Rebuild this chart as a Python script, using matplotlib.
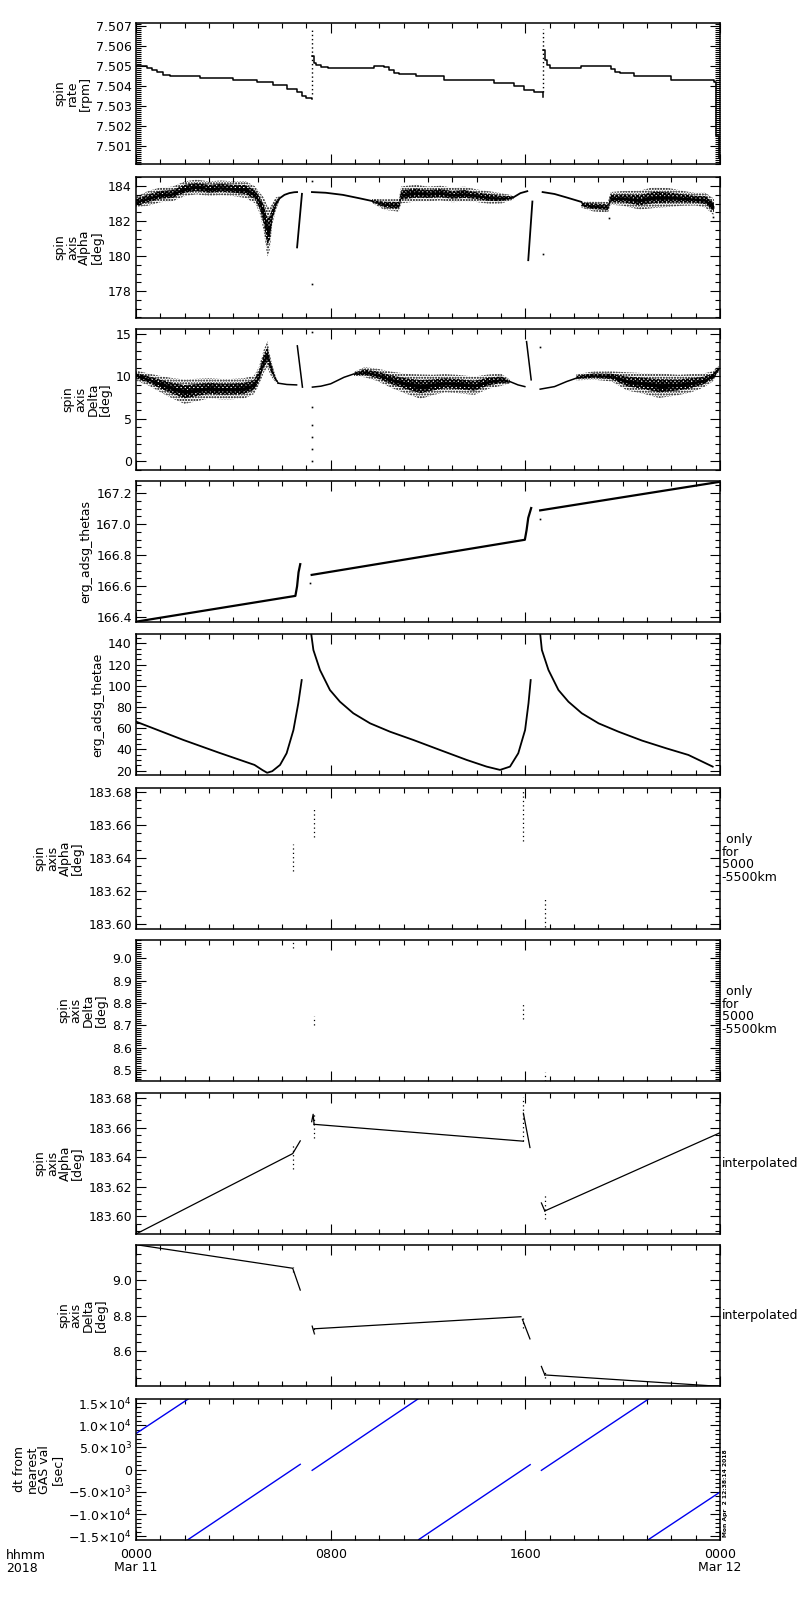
import matplotlib
matplotlib.use('Agg')
import matplotlib.pyplot as plt
import numpy as np
from matplotlib.ticker import MultipleLocator, FixedLocator

plt.rcParams['font.family'] = ['DejaVu Sans']
plt.rcParams['hatch.linewidth'] = 1.0

# ---------------- DATA (time in hours from 2018-03-11 00:00) ----------------
# Panel 1: spin rate [rpm]
rate_a_t = [0, 0.44, 0.64, 0.85, 1.12, 1.40, 2.63, 4.0, 4.97, 5.65, 6.2, 6.62, 6.82, 7.0, 7.23]
rate_a_v = [7.50502, 7.50493, 7.50482, 7.5047, 7.50458, 7.50448, 7.50441, 7.50431, 7.50419,
            7.50404, 7.50387, 7.50371, 7.50352, 7.50342, 7.50334]
rate_b_t = [7.25, 7.3, 7.4, 7.6, 7.9, 9.8, 10.2, 10.4, 10.6, 10.8, 11.5, 12.65, 14.71, 15.53, 15.94, 16.36, 16.71]
rate_b_v = [7.50549, 7.50515, 7.50505, 7.50498, 7.5049, 7.5050, 7.50495, 7.5048, 7.50467, 7.50461,
            7.5045, 7.50432, 7.50414, 7.5040, 7.50381, 7.5037, 7.50344]
rate_c_t = [16.74, 16.8, 16.9, 17.0, 18.27, 19.5, 19.7, 19.9, 20.45, 22.0, 23.75, 23.85, 23.96]
rate_c_v = [7.50582, 7.5053, 7.50505, 7.5049, 7.5050, 7.50485, 7.5047, 7.50464, 7.5045, 7.5043,
            7.5042, 7.5015, 7.5004]
rate_spike_t = [7.23, 16.72]
rate_spike_top = [7.50687, 7.50687]
rate_spike_bot = [7.50360, 7.50370]

# Panel 2: spin axis Alpha (noisy parts as centre / half-width)
alpha_n1_t = [0.0, 0.5, 1.0, 1.5, 2.0, 2.5, 3.0, 3.5, 4.0, 4.5, 4.9, 5.1, 5.25, 5.4, 5.5, 5.6, 5.75, 5.9]
alpha_n1_m = [183.1, 183.3, 183.5, 183.55, 183.85, 183.95, 183.85, 183.9, 183.85, 183.8, 183.5,
              183.0, 182.4, 181.4, 181.6, 182.4, 183.0, 183.3]
alpha_n1_w = [0.25, 0.35, 0.35, 0.35, 0.35, 0.35, 0.35, 0.35, 0.35, 0.4, 0.4, 0.5, 0.8, 1.2, 1.0,
              0.5, 0.3, 0.1]
alpha_n2_t = [9.7, 10.2, 10.8, 10.9, 11.5, 12.0, 12.5, 13.0, 13.5, 14.0, 14.5, 15.0, 15.5]
alpha_n2_m = [183.15, 182.95, 182.9, 183.5, 183.6, 183.55, 183.6, 183.5, 183.55, 183.45, 183.35, 183.3, 183.35]
alpha_n2_w = [0.1, 0.25, 0.3, 0.4, 0.4, 0.35, 0.35, 0.35, 0.35, 0.3, 0.3, 0.25, 0.1]
alpha_n3_t = [18.3, 18.8, 19.4, 19.5, 20.0, 20.7, 21.3, 21.9, 22.5, 23.0, 23.4, 23.75]
alpha_n3_m = [182.95, 182.85, 182.8, 183.3, 183.3, 183.2, 183.35, 183.35, 183.3, 183.25, 183.2, 182.8]
alpha_n3_w = [0.15, 0.25, 0.25, 0.3, 0.35, 0.45, 0.5, 0.45, 0.35, 0.3, 0.35, 0.4]
alpha_s_t = [[5.9, 6.1, 6.3, 6.5, 6.62], [6.62, 6.82], [7.23, 7.8, 8.5, 9.2, 9.7],
             [15.5, 15.8, 16.08], [16.12, 16.29], [16.71, 17.2, 17.7, 18.3]]
alpha_s_v = [[183.3, 183.5, 183.6, 183.65, 183.66], [180.5, 183.56], [183.66, 183.62, 183.5, 183.3, 183.15],
             [183.35, 183.6, 183.71], [179.77, 183.12], [183.66, 183.55, 183.35, 183.1]]
alpha_pts_t = [7.23, 7.23, 16.71, 19.45, 23.7]
alpha_pts_v = [184.3, 178.4, 180.1, 182.2, 182.25]

# Panel 3: spin axis Delta
delta_n1_t = [0, 0.55, 1.0, 1.5, 2.0, 2.5, 3.0, 3.5, 3.9, 4.45, 4.85, 5.05, 5.25, 5.4, 5.55, 5.7, 5.85]
delta_n1_m = [10.1, 9.6, 9.1, 8.6, 8.2, 8.4, 8.6, 8.5, 8.5, 8.6, 9.0, 10.0, 11.8, 12.6, 11.0, 9.9, 9.2]
delta_n1_w = [0.5, 0.6, 0.8, 1.0, 1.2, 1.1, 1.0, 1.0, 1.0, 1.0, 0.9, 0.9, 1.1, 1.3, 0.8, 0.4, 0.15]
delta_n2_t = [8.96, 9.4, 9.9, 10.5, 11.16, 11.7, 12.2, 12.7, 13.26, 13.9, 14.5, 15.0, 15.36]
delta_n2_m = [10.3, 10.5, 10.2, 9.6, 9.1, 8.8, 9.0, 9.2, 9.1, 8.9, 9.4, 9.6, 9.4]
delta_n2_w = [0.2, 0.5, 0.6, 0.8, 1.0, 1.2, 1.0, 0.9, 0.9, 0.9, 0.7, 0.6, 0.2]
delta_n3_t = [18.1, 18.8, 19.55, 20.2, 20.8, 21.5, 22.3, 22.8, 23.3, 23.7, 23.96]
delta_n3_m = [9.9, 10.1, 10.0, 9.4, 9.2, 8.9, 9.0, 9.2, 9.5, 10.0, 10.9]
delta_n3_w = [0.3, 0.4, 0.5, 0.9, 1.0, 1.2, 1.0, 0.9, 0.7, 0.5, 0.3]
delta_s_t = [[5.85, 6.2, 6.6], [6.63, 6.84], [7.25, 7.6, 8.0, 8.55, 8.96],
             [15.36, 15.7, 15.98], [16.05, 16.24], [16.61, 17.2, 17.7, 18.1]]
delta_s_v = [[9.2, 9.05, 9.0], [13.6, 8.74], [8.74, 8.85, 9.13, 9.9, 10.3],
             [9.4, 9.0, 8.8], [14.1, 9.6], [8.5, 8.8, 9.4, 9.8]]
delta_pts_t = [7.25, 7.25, 7.25, 7.25, 7.25, 7.25, 16.61]
delta_pts_v = [15.2, 6.4, 4.3, 2.9, 1.45, 0.0, 13.5]

# Panel 4: erg_adsg_thetas
thetas_t = [[0.0, 6.55, 6.62, 6.68, 6.75], [7.22, 15.98, 16.05, 16.12, 16.24], [16.61, 23.96]]
thetas_v = [[166.372, 166.538, 166.60, 166.69, 166.742], [166.673, 166.899, 166.96, 167.04, 167.103],
            [167.088, 167.271]]
thetas_pts_t = [7.17, 16.61]
thetas_pts_v = [166.62, 167.034]

# Panel 5: erg_adsg_thetae
thetae_t = [[0, 1.95, 3.4, 4.87, 5.2, 5.39, 5.6, 5.92, 6.19, 6.47, 6.67, 6.81],
            [7.20, 7.29, 7.56, 7.97, 8.38, 8.93, 9.62, 10.44, 11.40, 12.49, 13.59, 14.41, 14.96,
             15.37, 15.71, 15.99, 16.13, 16.22],
            [16.61, 16.68, 16.95, 17.36, 17.77, 18.32, 19.01, 19.83, 20.8, 21.8, 22.7, 23.7]]
thetae_v = [[66.2, 48.9, 37.0, 25.4, 20.5, 18.0, 19.5, 25.4, 36.4, 58.3, 83.5, 105.4],
            [149, 133.7, 114.9, 96.0, 85.0, 74.1, 64.6, 56.7, 48.9, 39.5, 30.1, 23.8, 20.7,
             23.8, 36.4, 58.3, 83.5, 105.4],
            [149, 133.7, 114.9, 96.0, 85.0, 74.1, 64.6, 56.7, 48.3, 41.0, 34.8, 23.8]]

# Panels 6 & 7: values only for 5000-5500 km
only_t = [6.44, 7.32, 15.92, 16.80]
alpha_only_lo = [183.632, 183.6527, 183.6506, 183.598]
alpha_only_hi = [183.6486, 183.670, 183.681, 183.6152]
delta_only_lo = [9.046, 8.70, 8.73, 8.45]
delta_only_hi = [9.076, 8.74, 8.80, 8.49]

# Panel 8: Alpha interpolated
alpha_i_t = [[0.0, 6.44, 6.75], [7.22, 7.28, 7.32], [7.32, 15.92], [15.92, 16.19],
             [16.66, 16.80], [16.80, 24.0]]
alpha_i_v = [[183.588, 183.6424, 183.651], [183.664, 183.669, 183.662], [183.6622, 183.6508],
             [183.6697, 183.6465], [183.609, 183.6036], [183.6036, 183.6565]]

# Panel 9: Delta interpolated
delta_i_t = [[0.0, 6.44, 6.75], [7.24, 7.32], [7.32, 15.82], [15.88, 16.19],
             [16.66, 16.80], [16.80, 23.54, 24.0]]
delta_i_v = [[9.2009, 9.068, 8.945], [8.742, 8.704], [8.727, 8.795], [8.78, 8.670],
             [8.515, 8.467], [8.467, 8.4066, 8.405]]

# Panel 10: dt from nearest GAS val [sec]
dt_t0 = [0.0, 2.14, 7.24, 11.62, 16.66, 21.06]
dt_v0 = [8128, -15730, -150, -15730, -150, -15730]
dt_t1 = [2.14, 6.75, 11.58, 16.20, 21.06, 24.0]
dt_v1 = [15880, 1204, 15880, 1129, 15880, -5043]

ylabels = ['spin\nrate\n[rpm]', 'spin\naxis\nAlpha\n[deg]', 'spin\naxis\nDelta\n[deg]',
           'erg_adsg_thetas', 'erg_adsg_thetae', 'spin\naxis\nAlpha\n[deg]',
           'spin\naxis\nDelta\n[deg]', 'spin\naxis\nAlpha\n[deg]', 'spin\naxis\nDelta\n[deg]',
           'dt from\nnearest\nGAS val\n[sec]']
ylims = [(7.50008, 7.50717), (176.47, 184.52), (-1.03, 15.59), (166.37, 167.277), (15.9, 148.8),
         (183.597, 183.6824), (8.4506, 9.082), (183.588, 183.6834), (8.4047, 9.199), (-15828, 15903)]
ymajor = [0.001, 2, 5, 0.2, 20, 0.02, 0.1, 0.02, 0.2, 5000]
yminor = [0.0001, 0.5, 1, 0.05, 5, 0.005, 0.01, 0.005, 0.05, 1000]
yfmt = ['%.3f', '%d', '%d', '%.1f', '%d', '%.2f', '%.1f', '%.2f', '%.1f', None]
right_labels = [None, None, None, None, None, ' only\nfor\n5000\n-5500km', ' only\nfor\n5000\n-5500km',
                'interpolated', 'interpolated', None]
dt_ticks = [-15000, -10000, -5000, 0, 5000, 10000, 15000]
dt_ticklabels = [r'$-$1.5$\times$10$^4$', r'$-$1.0$\times$10$^4$', r'$-$5.0$\times$10$^3$', '0',
                 r'5.0$\times$10$^3$', r'1.0$\times$10$^4$', r'1.5$\times$10$^4$']
xticks = [0, 8, 16, 24]
xticklabels = ['0000\nMar 11', '0800', '1600', '0000\nMar 12']

# ---------------- FIGURE ----------------
W, H = 800, 1600
fig = plt.figure(figsize=(8, 16), dpi=100)
left_px, right_px = 136, 720
tops = [23, 177, 329, 481, 634, 788, 940, 1093, 1245, 1399]
ph = 141
FS = 9
axes = []
for i, tp in enumerate(tops):
    ax = fig.add_axes([left_px / W, 1 - (tp + ph) / H, (right_px - left_px) / W, ph / H])
    ax.set_xlim(0, 24)
    ax.set_ylim(*ylims[i])
    ax.xaxis.set_major_locator(FixedLocator(xticks))
    ax.xaxis.set_minor_locator(MultipleLocator(1))
    ax.yaxis.set_major_locator(MultipleLocator(ymajor[i]))
    ax.yaxis.set_minor_locator(MultipleLocator(yminor[i]))
    ax.tick_params(which='both', direction='in', top=True, right=True, width=0.8,
                   labelsize=FS, pad=3)
    ax.tick_params(which='major', length=7)
    ax.tick_params(which='minor', length=3.5)
    for s in ax.spines.values():
        s.set_linewidth(1.1)
    if yfmt[i] is not None:
        ax.yaxis.set_major_formatter(matplotlib.ticker.FormatStrFormatter(yfmt[i]))
    ax.set_ylabel(ylabels[i], fontsize=FS, linespacing=0.95, labelpad=3)
    if i < 9:
        ax.tick_params(axis='x', labelbottom=False)
    if right_labels[i]:
        ax.text(1.003, 0.5, right_labels[i], transform=ax.transAxes, ha='left', va='center',
                fontsize=FS, linespacing=0.95)
    axes.append(ax)

lw = 0.9

def band(ax, t, m, w):
    t = np.asarray(t); m = np.asarray(m); w = np.asarray(w)
    ax.fill_between(t, m - 1.2 * w, m + 1.2 * w, facecolor='none', edgecolor='black',
                    hatch='......', linewidth=0)
    ax.fill_between(t, m - 0.65 * w, m + 0.65 * w, facecolor='none', edgecolor='black',
                    hatch='xxxxxxxx', linewidth=0)
    ax.fill_between(t, m - 0.2 * w, m + 0.2 * w, color='black', linewidth=0)

# Panel 1
ax = axes[0]
for t, v in [(rate_a_t, rate_a_v), (rate_b_t, rate_b_v), (rate_c_t, rate_c_v)]:
    ax.plot(t, v, color='black', lw=1.1, drawstyle='steps-post')
ax.vlines(rate_spike_t, rate_spike_bot, rate_spike_top, colors='black', linestyles=(0, (1, 2)), lw=1)

# Panel 2
ax = axes[1]
band(ax, alpha_n1_t, alpha_n1_m, alpha_n1_w)
band(ax, alpha_n2_t, alpha_n2_m, alpha_n2_w)
band(ax, alpha_n3_t, alpha_n3_m, alpha_n3_w)
for t, v in zip(alpha_s_t, alpha_s_v):
    ax.plot(t, v, color='black', lw=1.3)
ax.plot(alpha_pts_t, alpha_pts_v, 's', color='black', ms=1.2, mew=0)

# Panel 3
ax = axes[2]
band(ax, delta_n1_t, delta_n1_m, delta_n1_w)
band(ax, delta_n2_t, delta_n2_m, delta_n2_w)
band(ax, delta_n3_t, delta_n3_m, delta_n3_w)
for t, v in zip(delta_s_t, delta_s_v):
    ax.plot(t, v, color='black', lw=1.1)
ax.plot(delta_pts_t, delta_pts_v, 's', color='black', ms=1.2, mew=0)

# Panel 4
ax = axes[3]
for t, v in zip(thetas_t, thetas_v):
    ax.plot(t, v, color='black', lw=1.6)
ax.plot(thetas_pts_t, thetas_pts_v, 's', color='black', ms=1.2, mew=0)

# Panel 5
ax = axes[4]
for t, v in zip(thetae_t, thetae_v):
    ax.plot(t, v, color='black', lw=1.3)

# Panels 6,7
axes[5].vlines(only_t, alpha_only_lo, alpha_only_hi, colors='black', linestyles=(0, (1, 2.5)), lw=0.9)
axes[6].vlines(only_t, delta_only_lo, delta_only_hi, colors='black', linestyles=(0, (1, 2.5)), lw=0.9)

# Panel 8
ax = axes[7]
for t, v in zip(alpha_i_t, alpha_i_v):
    ax.plot(t, v, color='black', lw=lw)
ax.vlines(only_t, alpha_only_lo, alpha_only_hi, colors='black', linestyles=(0, (1, 2.5)), lw=0.9)

# Panel 9
ax = axes[8]
for t, v in zip(delta_i_t, delta_i_v):
    ax.plot(t, v, color='black', lw=lw)
ax.vlines(only_t, delta_only_lo, delta_only_hi, colors='black', linestyles=(0, (1, 2.5)), lw=0.9)

# Panel 10
ax = axes[9]
for t0, v0, t1, v1 in zip(dt_t0, dt_v0, dt_t1, dt_v1):
    ax.plot([t0, t1], [v0, v1], color='#0000ee', lw=1.0)
ax.yaxis.set_major_locator(FixedLocator(dt_ticks))
ax.set_yticklabels(dt_ticklabels)
ax.set_xticks(xticks)
ax.set_xticklabels(xticklabels, fontsize=FS, linespacing=1.0)
ax.tick_params(axis='x', pad=6)

fig.text(6 / W, 1 - 1549 / H, 'hhmm\n2018', ha='left', va='top', fontsize=FS, linespacing=1.0)
fig.text(723 / W, 1 - 1537 / H, 'Mon Apr  2 12:38:14 2018', rotation=90, ha='left', va='bottom',
         fontsize=4.3, fontweight='bold')

fig.savefig('out.png', dpi=100)
